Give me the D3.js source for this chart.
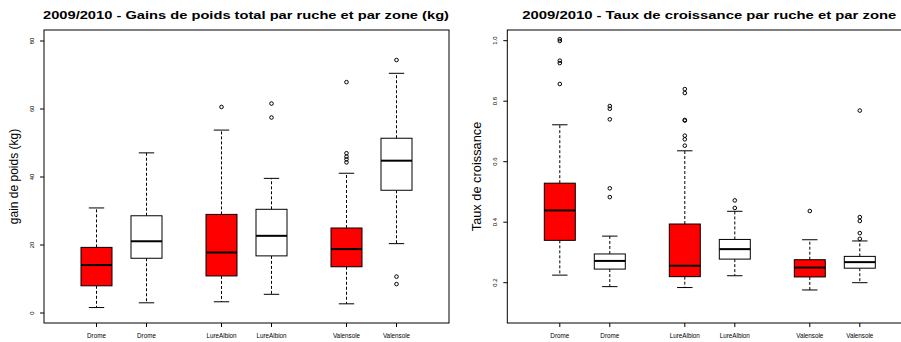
<!DOCTYPE html>
<html>
<head>
<meta charset="utf-8">
<script src="https://cdn.jsdelivr.net/npm/d3@7"></script>
<style>
  body { margin: 0; background: #fff; }
  svg { display: block; font-family: "Liberation Sans", Arial, sans-serif; }
</style>
</head>
<body>
<svg id="chart" width="901" height="342"></svg>
<script>
// zones and box positions (R boxplot "at")
const zones = ["Drome", "Drome", "LureAlbion", "LureAlbion", "Valensole", "Valensole"];
const positions = [1, 2, 3.5, 4.5, 6, 7];
const fills = ["#ff0000", "#ffffff", "#ff0000", "#ffffff", "#ff0000", "#ffffff"];

// gain de poids (kg)
const gainLow  = [1.6, 3.0, 3.3, 5.5, 2.7, 20.4];
const gainQ1   = [8.0, 16.1, 10.9, 16.8, 13.6, 36.1];
const gainMed  = [14.1, 21.1, 17.8, 22.7, 18.8, 44.8];
const gainQ3   = [19.3, 28.6, 29.0, 30.5, 25.0, 51.4];
const gainHigh = [30.9, 47.1, 53.8, 39.6, 41.1, 70.5];
const gainOut  = [[], [], [60.6], [61.6, 57.5], [67.9, 47.0, 46.0, 45.2, 44.3], [74.4, 10.7, 8.5]];
const gainTicks = [0, 20, 40, 60, 80];

// taux de croissance
const tauxLow  = [0.225, 0.187, 0.184, 0.223, 0.176, 0.200];
const tauxQ1   = [0.340, 0.245, 0.220, 0.278, 0.219, 0.248];
const tauxMed  = [0.439, 0.272, 0.256, 0.311, 0.250, 0.268];
const tauxQ3   = [0.529, 0.295, 0.394, 0.343, 0.276, 0.287];
const tauxHigh = [0.722, 0.354, 0.636, 0.436, 0.342, 0.338];
const tauxOut  = [[1.005, 0.999, 0.934, 0.926, 0.857], [0.784, 0.775, 0.740, 0.512, 0.483],
                  [0.840, 0.827, 0.738, 0.736, 0.686, 0.674, 0.653], [0.472, 0.447], [0.437],
                  [0.769, 0.417, 0.404, 0.364, 0.345]];
const tauxTicks = [0.2, 0.4, 0.6, 0.8, 1.0];

const svg = d3.select("#chart");

function drawPanel(opt) {
  const g = svg.append("g");
  const x = d3.scaleLinear().domain([-0.05, 8.05]).range([opt.left, opt.left + 405]);
  const y = d3.scaleLinear().domain(opt.yDomain).range(opt.yRange);
  const top = 30, bottom = 323;

  const stats = zones.map((z, i) => ({
    zone: z, pos: positions[i], fill: fills[i],
    lo: opt.low[i], q1: opt.q1[i], med: opt.med[i], q3: opt.q3[i], hi: opt.high[i], out: opt.out[i]
  }));

  const halfW = 15.5, capW = 7.7;
  const box = g.selectAll("g.box").data(stats).enter().append("g").attr("class", "box");

  // whiskers
  box.append("line")
    .attr("x1", d => x(d.pos)).attr("x2", d => x(d.pos))
    .attr("y1", d => y(d.q3)).attr("y2", d => y(d.hi))
    .attr("stroke", "#000").attr("stroke-dasharray", "3,2");
  box.append("line")
    .attr("x1", d => x(d.pos)).attr("x2", d => x(d.pos))
    .attr("y1", d => y(d.q1)).attr("y2", d => y(d.lo))
    .attr("stroke", "#000").attr("stroke-dasharray", "3,2");
  ["hi", "lo"].forEach(k => {
    box.append("line")
      .attr("x1", d => x(d.pos) - capW).attr("x2", d => x(d.pos) + capW)
      .attr("y1", d => y(d[k])).attr("y2", d => y(d[k]))
      .attr("stroke", "#000");
  });
  box.append("rect")
    .attr("x", d => x(d.pos) - halfW).attr("width", halfW * 2)
    .attr("y", d => y(d.q3)).attr("height", d => y(d.q1) - y(d.q3))
    .attr("fill", d => d.fill).attr("stroke", "#000");
  box.append("line")
    .attr("x1", d => x(d.pos) - halfW).attr("x2", d => x(d.pos) + halfW)
    .attr("y1", d => y(d.med)).attr("y2", d => y(d.med))
    .attr("stroke", "#000").attr("stroke-width", 2);
  box.selectAll("circle").data(d => d.out.map(v => ({pos: d.pos, v}))).enter().append("circle")
    .attr("cx", d => x(d.pos)).attr("cy", d => y(d.v)).attr("r", 1.8)
    .attr("fill", "none").attr("stroke", "#000");

  // frame
  g.append("rect")
    .attr("x", opt.left).attr("y", top).attr("width", 405).attr("height", bottom - top)
    .attr("fill", "none").attr("stroke", "#000");

  // y axis
  const yt = g.selectAll("g.yt").data(opt.ticks).enter().append("g");
  yt.append("line").attr("x1", opt.left - 4).attr("x2", opt.left)
    .attr("y1", d => y(d)).attr("y2", d => y(d)).attr("stroke", "#000");
  yt.append("text")
    .attr("transform", d => `translate(${opt.left - 10},${y(d)}) rotate(-90)`)
    .attr("text-anchor", "middle").attr("font-size", 6)
    .text(opt.fmt);

  // x axis
  const xt = g.selectAll("g.xt").data(stats).enter().append("g");
  xt.append("line").attr("x1", d => x(d.pos)).attr("x2", d => x(d.pos))
    .attr("y1", bottom).attr("y2", bottom + 4).attr("stroke", "#000");
  xt.append("text").attr("x", d => x(d.pos)).attr("y", 337.5)
    .attr("text-anchor", "middle").attr("font-size", 6.3)
    .text(d => d.zone);

  g.append("text")
    .attr("transform", `translate(${opt.left - 26},176.5) rotate(-90)`)
    .attr("text-anchor", "middle").attr("font-size", opt.ylabSize).text(opt.ylab);

  // the original title is drawn wider than its height suggests
  g.append("text").attr("x", opt.left + 202).attr("y", 18.5)
    .attr("text-anchor", "middle").attr("font-size", 11.5).attr("font-weight", "bold")
    .attr("textLength", opt.titleLen).attr("lengthAdjust", "spacingAndGlyphs")
    .text(opt.title);
}

drawPanel({
  left: 44, yDomain: [0, 80], yRange: [313, 41],
  low: gainLow, q1: gainQ1, med: gainMed, q3: gainQ3, high: gainHigh, out: gainOut,
  ticks: gainTicks, fmt: d => d3.format("d")(d),
  ylab: "gain de poids (kg)", ylabSize: 12,
  title: "2009/2010 - Gains de poids total par ruche et par zone (kg)", titleLen: 406
});

drawPanel({
  left: 507.3, yDomain: [0.2, 1.0], yRange: [282.7, 40.7],
  low: tauxLow, q1: tauxQ1, med: tauxMed, q3: tauxQ3, high: tauxHigh, out: tauxOut,
  ticks: tauxTicks, fmt: d => d3.format(".1f")(d),
  ylab: "Taux de croissance", ylabSize: 12.8,
  title: "2009/2010 - Taux de croissance par ruche et par zone", titleLen: 374
});
</script>
</body>
</html>
